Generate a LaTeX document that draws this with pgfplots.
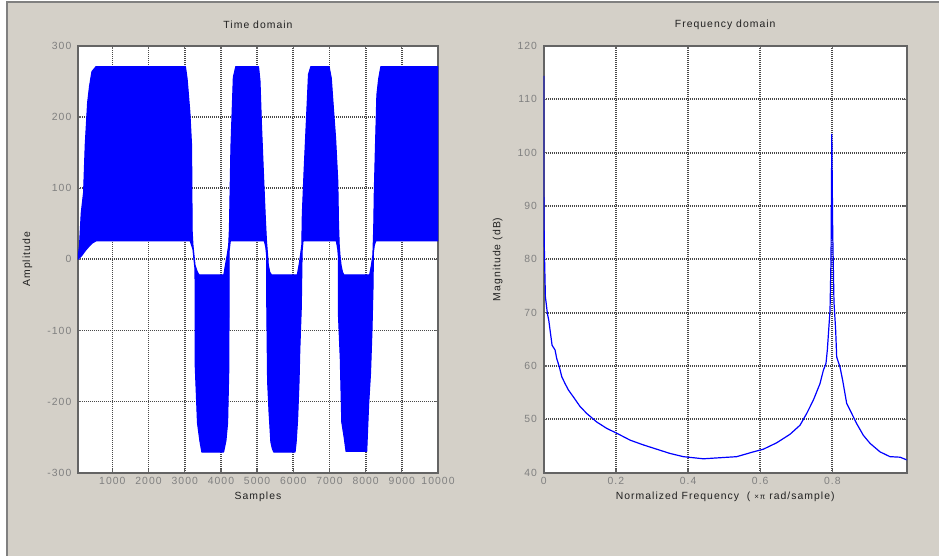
\documentclass[border=0pt]{standalone}
\usepackage{pgfplots}
\pgfplotsset{compat=1.18}
\usepackage{fontspec}
\setmainfont{Liberation Sans}[LetterSpace=10]
\definecolor{figbg}{HTML}{D4D0C8}
\definecolor{axgray}{HTML}{646464}
\definecolor{gridgray}{HTML}{484848}
\definecolor{tickgray}{HTML}{808080}
\definecolor{labelc}{HTML}{202020}
\definecolor{sigblue}{HTML}{0000FF}

\pgfplotsset{mstyle/.style={
  scale only axis, height=320pt,
  axis background/.style={fill=white},
  axis line style={axgray, line width=1.4pt},
  grid=major,
  major grid style={gridgray, line width=1.3pt, dash pattern=on 0.8pt off 0.7pt},
  tick align=inside, major tick length=2.5pt,
  tick style={axgray, line width=1pt},
  every tick label/.append style={font=\fontsize{7.8}{9}\selectfont, text=tickgray},
  /pgf/number format/assume math mode=true,
  /pgf/number format/1000 sep={},
  scaled ticks=false,
  label style={font=\fontsize{7.8}{9}\selectfont, text=labelc},
  title style={font=\fontsize{7.8}{9}\selectfont, text=labelc, at={(rel axis cs:0.5,1)}, anchor=center, yshift=9.75pt},
  xlabel style={at={(rel axis cs:0.5,0)}, anchor=center, yshift=-18pt},
  yticklabel style={xshift=-1.5pt},
}}

\begin{document}
\begin{tikzpicture}
\fill[white] (0,0) rectangle (704.25pt,417pt);
\fill[figbg] (6pt,0) rectangle (704.25pt,414.75pt);
\fill[tickgray] (4.5pt,414.75pt) rectangle (704.25pt,416.25pt);
\fill[tickgray] (4.5pt,0) rectangle (6pt,416.25pt);

% ---------------- Time domain ----------------
\begin{axis}[mstyle, width=270pt,
  at={(58.5pt,62.5pt)}, anchor=south west,
  xmin=50, xmax=10000, ymin=-300, ymax=300,
  xtick={1000,2000,...,10000}, ytick={-300,-200,...,300},
  title={Time domain}, xlabel={Samples}, ylabel={Amplitude},
  ylabel style={at={(rel axis cs:0,0.5)}, anchor=center, yshift=38pt},
]
% band between the upper envelope (forward) and the lower envelope (backward)
\addplot[fill=sigblue, draw=sigblue, line width=0.8pt, line join=round] coordinates {
(50,2) (92,20) (139,65) (204,94) (250,161) (315,220) (370,244) (435,264) (546,271)
(3019,271) (3066,254) (3142,207) (3189,160) (3205,40) (3227,20) (3255,6) (3284,-8)
(3350,-18) (3400,-22) (4080,-22) (4125,-8) (4173,6) (4215,20) (4235,43) (4277,159)
(4343,256) (4410,271) (5040,271) (5080,251) (5120,190) (5176,120) (5230,55) (5260,25)
(5290,6) (5310,-8) (5350,-18) (5400,-22) (6110,-22) (6160,-8) (6200,6) (6235,20)
(6250,64) (6300,126) (6355,187) (6420,260) (6484,271) (6990,271) (7050,255) (7110,212)
(7170,170) (7230,110) (7250,50) (7270,20) (7290,6) (7320,-8) (7360,-18) (7400,-22)
(8110,-22) (8160,-8) (8200,6) (8222,41) (8240,97) (8267,151) (8310,231) (8360,254)
(8420,271) (10000,271)
(10000,26) (8280,26) (8240,20) (8215,10) (8205,-37) (8175,-100) (8135,-160) (8082,-205)
(8030,-270) (7458,-270) (7405,-250) (7340,-229) (7299,-140) (7250,-80) (7245,5)
(7230,14) (7190,26) (6270,26) (6245,12) (6235,-20) (6222,-67) (6180,-128) (6160,-171)
(6120,-225) (6080,-257) (6050,-271) (5460,-271) (5420,-266) (5380,-257) (5330,-215)
(5290,-171) (5266,-60) (5262,6) (5240,17) (5200,26) (4260,26) (4228,12) (4220,-150)
(4185,-230) (4139,-255) (4074,-271) (3472,-271) (3417,-255) (3352,-230) (3290,-150)
(3284,-14) (3255,0) (3227,14) (3150,26) (550,26) (450,23) (350,18) (250,12) (150,5)
(50,0)
} -- cycle;
\end{axis}

% ---------------- Frequency domain ----------------
\begin{axis}[mstyle, width=272.2pt,
  at={(407.8pt,62.5pt)}, anchor=south west,
  xmin=0, xmax=1.006, ymin=40, ymax=120,
  xtick={0,0.2,0.4,0.6,0.8}, ytick={40,50,...,120},
  xticklabels={0,0.2,0.4,0.6,0.8},
  title={Frequency domain},
  xlabel={Normalized Frequency\ \ ( {\fontsize{6}{6}\selectfont ×π} rad/sample)},
  ylabel={Magnitude (dB)},
  ylabel style={at={(rel axis cs:0,0.5)}, anchor=center, yshift=34.5pt},
]
\addplot[sigblue, line width=0.9pt] coordinates {
(0,114.4) (0.0005,89) (0.0018,81.7) (0.0046,73) (0.0102,69.8) (0.0139,68.6)
(0.0176,66.7) (0.0231,63.9) (0.0314,63) (0.036,61.4) (0.0434,59.8) (0.0499,58)
(0.0591,56.7) (0.0684,55.5) (0.0822,54.2) (0.1007,52.4) (0.1192,51.1) (0.1469,49.5)
(0.1746,48.3) (0.2023,47.4) (0.2393,46.1) (0.2762,45.2) (0.3132,44.4) (0.3501,43.6)
(0.3871,43) (0.4425,42.6) (0.4887,42.8) (0.5349,43) (0.5811,43.9) (0.6088,44.4)
(0.6457,45.6) (0.6827,47.2) (0.7104,48.9) (0.7289,51.1) (0.7473,53.6) (0.7658,56.7)
(0.7751,59.2) (0.7824,60.5) (0.7861,63) (0.7898,66.7) (0.7935,70.4) (0.7963,80)
(0.7985,103.5) (0.8010,85) (0.8045,72) (0.8092,66.7) (0.812,61.7) (0.8212,59.8)
(0.8286,57.3) (0.8397,53) (0.8536,51.1) (0.8674,49.2) (0.8859,47) (0.9044,45.5)
(0.9321,43.9) (0.9598,43) (0.9875,42.9) (1.006,42.4)
};
\end{axis}
\end{tikzpicture}
\end{document}
